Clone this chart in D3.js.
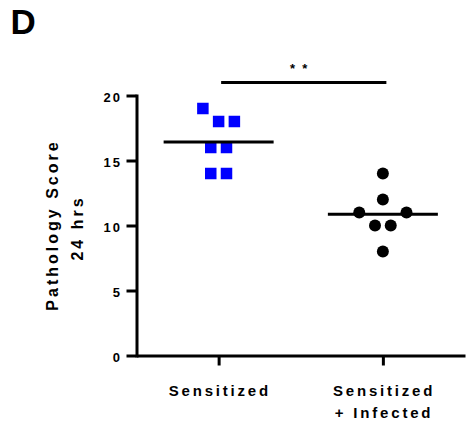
<!DOCTYPE html>
<html>
<head>
<meta charset="utf-8">
<script src="https://cdn.jsdelivr.net/npm/d3@7"></script>
<style>
  html, body { margin: 0; padding: 0; background: #fff; }
  svg { display: block; }
  text { font-family: "Liberation Sans", Arial, sans-serif; font-weight: bold; fill: #000; }
</style>
</head>
<body>
<svg id="chart" width="466" height="430"></svg>
<script>
// ---- data ----
const panelLabel = "D";
const categories = ["Sensitized", "Sensitized + Infected"];
const categoryLabelLines = [["Sensitized"], ["Sensitized", "+ Infected"]];
const sensitizedValues = [19, 18, 18, 16, 16, 14, 14];
const infectedValues = [14, 12, 11, 11, 10, 10, 8];
// horizontal scatter offsets (in marker widths) as laid out in the figure
const sensitizedOffsets = [-1, 0, 1, -0.5, 0.5, -0.5, 0.5];
const infectedOffsets = [0, 0, -1.5, 1.5, -0.5, 0.5, 0];
const yTicks = [0, 5, 10, 15, 20];
const yTitleLines = ["Pathology Score", "24 hrs"];
const significanceLabel = "**";
const significanceLevel = 21;

// ---- layout ----
const svg = d3.select("#chart");
const axisX = 136.5, axisY = 355.5;
const y = d3.scaleLinear().domain([0, 20]).range([355.5, 95.5]);
const x = d3.scalePoint().domain(categories).range([axisX, 465]).padding(0.5);
const unit = 15.75;

svg.append("text")
  .attr("x", 10.5).attr("y", 34.3)
  .style("font-size", "35px")
  .text(panelLabel);

// y axis
const gy = svg.append("g").attr("transform", `translate(${axisX},0)`)
  .call(d3.axisLeft(y).tickValues(yTicks).tickSize(10).tickSizeOuter(0).tickPadding(4.5));
gy.select(".domain").attr("stroke", "#000").attr("stroke-width", 3).attr("stroke-linecap", "square");
gy.selectAll(".tick line").attr("stroke", "#000").attr("stroke-width", 3);
gy.selectAll(".tick text")
  .attr("dy", null).attr("y", 6.3)
  .style("font-size", "13px").style("letter-spacing", "2px")
  .style("font-family", "'Liberation Sans', Arial, sans-serif").style("font-weight", "bold");

// x axis
const gx = svg.append("g").attr("transform", `translate(0,${axisY})`)
  .call(d3.axisBottom(x).tickSize(10).tickSizeOuter(0).tickFormat(""));
gx.select(".domain").attr("stroke", "#000").attr("stroke-width", 3);
gx.selectAll(".tick line").attr("stroke", "#000").attr("stroke-width", 3);

// category labels
categories.forEach((c, i) => {
  const t = svg.append("text")
    .attr("text-anchor", "middle")
    .style("font-size", "15px").style("letter-spacing", "2.8px");
  categoryLabelLines[i].forEach((line, j) => {
    t.append("tspan").attr("x", x(c) + 1.2).attr("y", 395.7 + j * 22).text(line);
  });
});

// y title
yTitleLines.forEach((line, j) => {
  svg.append("text")
    .attr("transform", `translate(${58.3 + j * 25},${[225, 228][j]}) rotate(-90)`)
    .attr("text-anchor", "middle")
    .style("font-size", "16px").style("letter-spacing", "3px")
    .text(line);
});

// sensitized squares
const sq = 11.5;
svg.append("g").selectAll("rect")
  .data(sensitizedValues)
  .join("rect")
  .attr("x", (d, i) => x(categories[0]) + sensitizedOffsets[i] * unit - sq / 2)
  .attr("y", d => y(d) - sq / 2)
  .attr("width", sq).attr("height", sq)
  .attr("fill", "#0000ff");

// infected circles
svg.append("g").selectAll("circle")
  .data(infectedValues)
  .join("circle")
  .attr("cx", (d, i) => x(categories[1]) + infectedOffsets[i] * unit)
  .attr("cy", d => y(d))
  .attr("r", 6)
  .attr("fill", "#000");

// mean lines
[sensitizedValues, infectedValues].forEach((vals, i) => {
  const m = d3.mean(vals);
  svg.append("line")
    .attr("x1", x(categories[i]) - 55).attr("x2", x(categories[i]) + 55)
    .attr("y1", y(m)).attr("y2", y(m))
    .attr("stroke", "#000").attr("stroke-width", 3);
});

// significance bar
svg.append("line")
  .attr("x1", x(categories[0]) + 2.5).attr("x2", x(categories[1]) + 3.5)
  .attr("y1", y(significanceLevel)).attr("y2", y(significanceLevel))
  .attr("stroke", "#000").attr("stroke-width", 3);
svg.append("text")
  .attr("x", 290).attr("y", 73.3)
  .style("font-size", "13px").style("letter-spacing", "7.2px")
  .text(significanceLabel);
</script>
</body>
</html>
